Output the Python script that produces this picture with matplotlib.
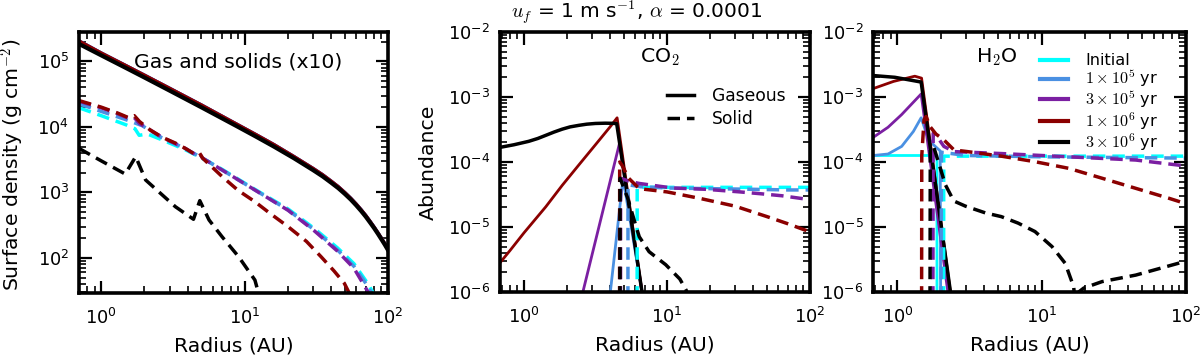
import numpy as np
import matplotlib
matplotlib.use('Agg')
import matplotlib.pyplot as plt
from matplotlib.lines import Line2D

plt.rcParams['font.family'] = ['DejaVu Sans']
plt.rcParams['mathtext.fontset'] = 'cm'
plt.rcParams['axes.unicode_minus'] = False

# ---------------- styling lists ----------------
colors = ['#00FFFF', '#4A90E2', '#7B1FA2', '#8B0000', '#000000']
time_labels = ['Initial', r'$1\times10^5$ yr', r'$3\times10^5$ yr',
               r'$1\times10^6$ yr', r'$3\times10^6$ yr']

# ---------------- Panel 1: surface density (log10 values) ----------------
gas_r = [0.70, 1.0, 1.5, 2.0, 3.0, 5.0, 8.8, 12, 16, 22, 30, 35, 40, 45, 50, 55, 60, 65,
         70, 75, 80, 85, 90, 95, 100]
gas_late_log = [5.265, 5.091, 4.894, 4.753, 4.552, 4.297, 4.010, 3.850, 3.698, 3.522, 3.339,
                3.243, 3.149, 3.063, 2.975, 2.889, 2.801, 2.714, 2.627, 2.538, 2.453,
                2.367, 2.282, 2.200, 2.117]
gas_early_log = [5.31, 5.126, 4.929, 4.788, 4.587, 4.332, 4.040, 3.880, 3.728, 3.547, 3.364,
                 3.267, 3.172, 3.085, 2.995, 2.908, 2.820, 2.732, 2.645, 2.555, 2.468,
                 2.382, 2.297, 2.215, 2.132]

sol_cyan_r = [0.70, 1.0, 1.49, 1.72, 1.84, 2.1, 2.66, 3.86, 5.58, 6.97, 11.8, 20.1, 30.7,
              44.5, 57.9, 71.6, 82]
sol_cyan_log = [4.29, 4.17, 4.03, 3.97, 3.87, 3.89, 3.80, 3.65, 3.47, 3.35, 3.045, 2.745,
                2.445, 2.15, 1.91, 1.62, 1.40]
sol_blue_r = [0.70, 1.0, 1.49, 1.93, 2.66, 3.86, 5.3, 6.97, 11.8, 20.1, 30.7, 44.5, 57.9,
              71.6, 80]
sol_blue_log = [4.35, 4.235, 4.108, 4.017, 3.83, 3.666, 3.50, 3.34, 3.035, 2.73, 2.424,
                2.118, 1.87, 1.58, 1.40]
sol_purple_r = [0.70, 1.0, 1.3, 1.55, 1.7, 1.85, 2.2, 2.66, 3.86, 4.5, 4.85, 5.1, 6.97,
                11.8, 20.1, 30.7, 44.5, 57.9, 71.6, 78]
sol_purple_log = [4.39, 4.29, 4.20, 4.13, 4.14, 4.05, 3.95, 3.84, 3.67, 3.58, 3.59, 3.52,
                  3.34, 3.035, 2.725, 2.41, 2.10, 1.84, 1.50, 1.35]
sol_red_r = [0.70, 1.0, 1.3, 1.55, 1.7, 1.85, 2.2, 2.66, 3.3, 3.86, 4.5, 4.85, 5.1, 6.97,
             9.0, 11.8, 15, 20.1, 27, 34.1, 42, 49.6, 56]
sol_red_log = [4.40, 4.30, 4.21, 4.14, 4.17, 4.08, 3.95, 3.84, 3.75, 3.67, 3.58, 3.60, 3.52,
               3.24, 3.03, 2.856, 2.68, 2.475, 2.25, 2.017, 1.80, 1.61, 1.38]
sol_black_r = [0.70, 1.0, 1.47, 1.74, 2.04, 3.29, 4.40, 4.87, 5.65, 6.97, 9.08, 11.8, 12.5,
               13.5]
sol_black_log = [3.67, 3.48, 3.279, 3.544, 3.188, 2.78, 2.588, 2.872, 2.577, 2.32, 2.017,
                 1.66, 1.46, 1.2]

# ---------------- Panel 2: CO2 abundances (log10) ----------------
co2_gas_blue_r = [3.88, 4.93, 6.69, 7.1]
co2_gas_blue_log = [-6.3, -4.25, -6.0, -6.37]
co2_gas_purple_r = [2.39, 4.66, 6.69, 7.1]
co2_gas_purple_log = [-6.3, -3.71, -6.0, -6.37]
co2_gas_red_r = [0.68, 0.8, 1.0, 1.42, 1.85, 2.42, 3.16, 4.0, 4.48, 6.69, 7.1]
co2_gas_red_log = [-5.55, -5.36, -5.09, -4.69, -4.36, -4.045, -3.735, -3.46, -3.32, -6.0,
                   -6.37]
co2_gas_black_r = [0.68, 0.85, 1.08, 1.25, 1.42, 1.62, 1.85, 2.1, 2.42, 2.75, 3.16, 3.7,
                   4.2, 4.45, 6.69, 7.1]
co2_gas_black_log = [-3.775, -3.735, -3.682, -3.638, -3.59, -3.54, -3.495, -3.46, -3.436,
                     -3.418, -3.407, -3.403, -3.405, -3.41, -6.0, -6.37]

co2_sol_cyan_r = [6.18, 6.19, 100]
co2_sol_cyan_log = [-7, -4.39, -4.39]
co2_sol_blue_r = [5.33, 5.34, 6.5, 10, 20, 40, 70, 100]
co2_sol_blue_log = [-7, -4.35, -4.38, -4.40, -4.41, -4.42, -4.43, -4.43]
co2_sol_purple_r = [4.73, 4.74, 5.5, 6.4, 10.9, 18.7, 32.3, 46, 64, 93, 100]
co2_sol_purple_log = [-7, -4.25, -4.30, -4.33, -4.40, -4.42, -4.46, -4.49, -4.52, -4.57,
                      -4.59]
co2_sol_red_r = [4.66, 4.67, 4.85, 5.4, 6.4, 10, 17, 30, 50, 70, 93, 100]
co2_sol_red_log = [-7, -4.0, -4.05, -4.25, -4.41, -4.46, -4.56, -4.68, -4.84, -4.95, -5.05,
                   -5.09]
co2_sol_black_r = [4.69, 4.70, 5.3, 6.0, 6.4, 7.5, 8.8, 9.8, 12.3, 13.6, 15]
co2_sol_black_log = [-7, -4.25, -4.55, -4.95, -5.15, -5.38, -5.5, -5.58, -5.8, -5.97, -6.2]

# ---------------- Panel 3: H2O abundances (log10) ----------------
h2o_gas_cyan_r = [0.68, 1.88, 1.881]
h2o_gas_cyan_log = [-3.90, -3.90, -7]
h2o_gas_blue_r = [0.68, 0.86, 1.07, 1.29, 1.46, 1.60, 1.73, 1.98, 2.0]
h2o_gas_blue_log = [-3.90, -3.877, -3.76, -3.53, -3.32, -3.58, -3.71, -3.83, -7]
h2o_gas_purple_r = [0.68, 0.86, 1.07, 1.46, 2.3, 2.4]
h2o_gas_purple_log = [-3.62, -3.466, -3.27, -2.954, -6.2, -6.5]
h2o_gas_red_r = [0.68, 0.94, 1.32, 1.47, 2.33, 2.4]
h2o_gas_red_log = [-2.87, -2.76, -2.68, -2.71, -6.0, -6.3]
h2o_gas_black_r = [0.68, 0.96, 1.46, 2.33, 2.42]
h2o_gas_black_log = [-2.67, -2.697, -2.77, -5.99, -6.25]

h2o_sol_cyan_r = [2.09, 2.095, 100]
h2o_sol_cyan_log = [-7, -3.91, -3.91]
h2o_sol_blue_r = [2.0, 2.02, 3.0, 10, 30, 100]
h2o_sol_blue_log = [-7, -3.85, -3.90, -3.92, -3.93, -3.94]
h2o_sol_purple_r = [1.76, 1.77, 1.9, 2.1, 2.47, 5.25, 15.4, 45, 90.8, 100]
h2o_sol_purple_log = [-7, -3.56, -3.62, -3.76, -3.84, -3.87, -3.92, -3.97, -4.05, -4.06]
h2o_sol_red_r = [1.47, 1.475, 1.53, 1.58, 1.69, 1.85, 2.1, 2.47, 3.06, 5.25, 8.98, 15.4,
                 26.3, 45, 77, 100]
h2o_sol_red_log = [-7, -3.9, -3.35, -3.30, -3.46, -3.57, -3.66, -3.815, -3.84, -3.91,
                   -3.995, -4.097, -4.25, -4.405, -4.56, -4.64]
h2o_sol_black_r = [1.68, 1.69, 1.78, 1.98, 2.15, 2.46, 2.97, 4.1, 5.25, 6.87, 9.0, 11.8,
                   14.6, 16.7, 17.3, 18.1, 19.6, 26.3, 45, 88.3, 100]
h2o_sol_black_log = [-7, -3.8, -3.76, -4.09, -4.35, -4.6, -4.68, -4.785, -4.84, -4.94,
                     -5.07, -5.30, -5.56, -5.92, -6.3, -6.0, -5.94, -5.84, -5.74, -5.56,
                     -5.52]

# ---------------- figure ----------------
W, H = 1200, 359
fig = plt.figure(figsize=(W / 100, H / 100), dpi=100)

def px_axes(x0, x1, ytop, ybot):
    return fig.add_axes([x0 / W, 1 - ybot / H, (x1 - x0) / W, (ybot - ytop) / H])

ax1 = px_axes(79, 388, 32, 293)
ax2 = px_axes(500, 810, 32, 292)
ax3 = px_axes(873.3, 1185.7, 32, 292)

DASH = (0, (3.6, 2.0))
TICKFS = 12.8
LABFS = 14.7

def p(v):
    return 10 ** np.asarray(v, dtype=float)

def style(ax):
    ax.set_xscale('log')
    ax.set_yscale('log')
    for s in ax.spines.values():
        s.set_linewidth(2.6)
    ax.tick_params(which='both', direction='in', top=True, right=True)
    ax.tick_params(which='major', length=9, width=1.6, labelsize=TICKFS)
    ax.tick_params(which='minor', length=5, width=1.2)
    ax.tick_params(axis='x', which='major', pad=11)
    ax.tick_params(axis='y', which='major', pad=7)
    ax.set_xlabel('Radius (AU)', fontsize=LABFS)
    ax.xaxis.set_label_coords(0.5, -0.167)

# Panel 1
sol_sets = [(sol_cyan_r, sol_cyan_log), (sol_blue_r, sol_blue_log),
            (sol_purple_r, sol_purple_log), (sol_red_r, sol_red_log),
            (sol_black_r, sol_black_log)]
for i, c in enumerate(colors):
    glog = gas_late_log if i == 4 else gas_early_log
    ax1.plot(gas_r, p(glog), color=c, lw=2.4 if i < 4 else 3.0)
for (r, v), c in zip(sol_sets, colors):
    ax1.plot(r, p(v), color=c, lw=2.5, linestyle=DASH)
style(ax1)
ax1.set_xlim(0.70, 100)
ax1.set_ylim(29, 2.8e5)
ax1.set_ylabel(r'Surface density (g cm$^{-2}$)', fontsize=LABFS)
ax1.yaxis.set_label_coords(-0.168, 0.49)
ax1.text(0.515, 0.885, 'Gas and solids (x10)', transform=ax1.transAxes,
         ha='center', va='center', fontsize=LABFS)

# Panel 2
co2_gas = [None, (co2_gas_blue_r, co2_gas_blue_log), (co2_gas_purple_r, co2_gas_purple_log),
           (co2_gas_red_r, co2_gas_red_log), (co2_gas_black_r, co2_gas_black_log)]
co2_sol = [(co2_sol_cyan_r, co2_sol_cyan_log), (co2_sol_blue_r, co2_sol_blue_log),
           (co2_sol_purple_r, co2_sol_purple_log), (co2_sol_red_r, co2_sol_red_log),
           (co2_sol_black_r, co2_sol_black_log)]
for i, c in enumerate(colors):
    if co2_gas[i] is not None:
        r, v = co2_gas[i]
        ax2.plot(r, p(v), color=c, lw=2.0 if i < 4 else 2.5)
for (r, v), c in zip(co2_sol, colors):
    ax2.plot(r, p(v), color=c, lw=2.5, linestyle=DASH)
style(ax2)
ax2.set_xlim(0.68, 100)
ax2.set_ylim(1e-6, 1e-2)
ax2.set_ylabel('Abundance', fontsize=LABFS)
ax2.yaxis.set_label_coords(-0.2, 0.5)
ax2.text(0.516, 0.904, r'CO$_2$', transform=ax2.transAxes, ha='center', va='center',
         fontsize=LABFS)
handles = [Line2D([], [], color='k', lw=2.5), Line2D([], [], color='k', lw=2.5, linestyle=DASH)]
ax2.legend(handles, ['Gaseous', 'Solid'], loc='upper left', bbox_to_anchor=(0.539, 0.788),
           frameon=False, fontsize=12.3, handlelength=1.6, handletextpad=1.0,
           borderpad=0, borderaxespad=0, labelspacing=0.3)

# Panel 3
h2o_gas = [(h2o_gas_cyan_r, h2o_gas_cyan_log), (h2o_gas_blue_r, h2o_gas_blue_log),
           (h2o_gas_purple_r, h2o_gas_purple_log), (h2o_gas_red_r, h2o_gas_red_log),
           (h2o_gas_black_r, h2o_gas_black_log)]
h2o_sol = [(h2o_sol_cyan_r, h2o_sol_cyan_log), (h2o_sol_blue_r, h2o_sol_blue_log),
           (h2o_sol_purple_r, h2o_sol_purple_log), (h2o_sol_red_r, h2o_sol_red_log),
           (h2o_sol_black_r, h2o_sol_black_log)]
for i, c in enumerate(colors):
    r, v = h2o_gas[i]
    ax3.plot(r, p(v), color=c, lw=2.0 if i < 4 else 2.5)
for (r, v), c in zip(h2o_sol, colors):
    ax3.plot(r, p(v), color=c, lw=2.5, linestyle=DASH)
style(ax3)
ax3.set_xlim(0.68, 100)
ax3.set_ylim(1e-6, 1e-2)
ax3.text(0.396, 0.904, r'H$_2$O', transform=ax3.transAxes, ha='center', va='center',
         fontsize=LABFS)
leg_handles = [Line2D([], [], color=c, lw=3.0) for c in colors]
ax3.legend(leg_handles, time_labels, loc='upper left', bbox_to_anchor=(0.534, 0.918),
           frameon=False, fontsize=11.6, handlelength=1.7, handletextpad=1.1,
           borderpad=0, borderaxespad=0, labelspacing=0.0)

fig.text(637 / W, 1 - 12.5 / H, r'$u_f$ = 1 m s$^{-1}$, $\alpha$ = 0.0001',
         ha='center', va='center', fontsize=14.5)

fig.savefig('out.png', dpi=100)
